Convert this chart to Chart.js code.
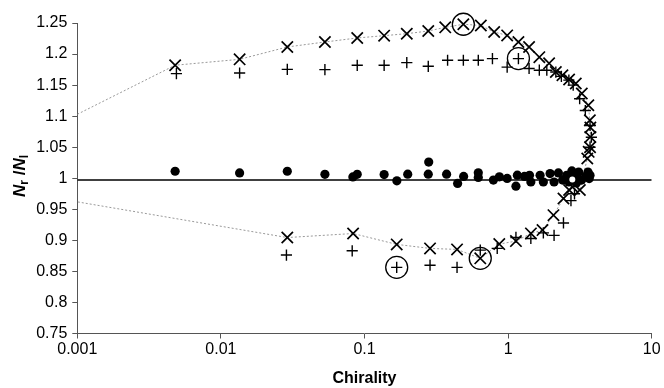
<!DOCTYPE html>
<html>
<head>
<meta charset="utf-8">
<script src="https://cdn.jsdelivr.net/npm/chart.js@4/dist/chart.umd.min.js"></script>
<style>
  html, body { margin: 0; padding: 0; background: #fff; }
  #wrap { width: 664px; height: 388px; }
</style>
</head>
<body>
<div id="wrap"><canvas id="chart" width="664" height="388"></canvas></div>
<script>
// --- data ---
const xTicks = [0.001, 0.01, 0.1, 1, 10];
const xTickLabels = ['0.001', '0.01', '0.1', '1', '10'];

// x markers (loop, upper branch then lower branch)
const crossX = [0.0048, 0.0135, 0.029, 0.053, 0.089, 0.137, 0.197, 0.278, 0.365, 0.488, 0.646, 0.80, 0.985, 1.18, 1.40, 1.65, 1.93, 2.15, 2.39, 2.66, 2.96, 3.26, 3.62, 3.71, 3.74, 3.74, 3.72, 3.64, 3.56, 3.16, 2.81, 2.66, 2.43, 2.07, 1.736, 1.442, 1.134, 0.868, 0.640, 0.441, 0.286, 0.1676, 0.0833, 0.029];
const crossY = [1.182, 1.1915, 1.2114, 1.2194, 1.2259, 1.2296, 1.2328, 1.2371, 1.243, 1.248, 1.246, 1.2355, 1.230, 1.2194, 1.2114, 1.195, 1.185, 1.1712, 1.1659, 1.159, 1.1525, 1.1364, 1.1175, 1.0935, 1.0817, 1.0666, 1.050, 1.0425, 1.0318, 0.981, 0.986, 0.981, 0.9675, 0.9406, 0.9165, 0.9112, 0.8988, 0.894, 0.871, 0.8854, 0.887, 0.8935, 0.911, 0.9045];

// + markers
const plusX = [0.0049, 0.0135, 0.029, 0.053, 0.089, 0.137, 0.197, 0.278, 0.379, 0.488, 0.62, 0.778, 0.985, 1.18, 1.40, 1.65, 1.86, 2.15, 2.35, 2.65, 2.84, 3.15, 3.45, 3.72, 3.8, 3.72, 2.9, 2.74, 2.43, 2.09, 1.76, 1.44, 1.134, 0.84, 0.640, 0.441, 0.286, 0.1676, 0.0821, 0.0286];
const plusY = [1.1685, 1.1695, 1.1754, 1.1749, 1.1819, 1.1819, 1.1862, 1.1803, 1.19, 1.19, 1.19, 1.1927, 1.179, 1.1927, 1.1767, 1.174, 1.174, 1.171, 1.164, 1.158, 1.15, 1.128, 1.109, 1.085, 1.066, 1.05, 0.975, 0.964, 0.928, 0.908, 0.912, 0.903, 0.9047, 0.887, 0.8843, 0.8565, 0.860, 0.8565, 0.8832, 0.8763];

// filled dots near 1
const dotX = [0.0048, 0.0135, 0.029, 0.053, 0.083, 0.089, 0.137, 0.168, 0.2, 0.278, 0.28, 0.373, 0.445, 0.49, 0.62, 0.62, 0.79, 0.87, 0.985, 1.134, 1.16, 1.3, 1.41, 1.44, 1.67, 1.76, 1.96, 2.09, 2.24, 2.4, 2.56, 2.65, 2.78, 2.93, 2.99, 3.1, 3.25, 3.47, 3.6, 3.67, 3.72];
const dotY = [1.0113, 1.0086, 1.0113, 1.0064, 1.0021, 1.0064, 1.0059, 0.9958, 1.0066, 1.0066, 1.026, 1.0066, 0.9917, 1.003, 1.0087, 1.0013, 0.997, 1.0023, 0.9997, 0.9873, 1.005, 1.003, 1.0048, 0.9941, 1.0048, 0.994, 1.0075, 0.994, 1.0086, 0.997, 1.0048, 0.994, 1.0118, 1.003, 0.9925, 1.010, 0.997, 1.003, 1.010, 0.9995, 1.005];

// dotted curve ends at the left axis
const curveStartY = 1.103;
const curveEndY = 0.962;

// horizontal reference line
const refLineX = [0.001, 10];
const refLineY = [0.997, 0.997];

// circled points
const ringX = [0.488, 1.18, 0.1676, 0.640];
const ringY = [1.248, 1.1927, 0.8565, 0.871];

// open marker inside the dot cluster
const openX = [2.8];
const openY = [0.998];

const toPts = (xs, ys) => xs.map((x, i) => ({ x: x, y: ys[i] }));

const curveX = [0.001, ...crossX, 0.001];
const curveY = [curveStartY, ...crossY, curveEndY];

const FONT = "'Liberation Sans', Arial, sans-serif";

// y axis title with subscripts
const yTitlePlugin = {
    id: 'yTitle',
    afterDraw(chart) {
        const ctx = chart.ctx;
        ctx.save();
        ctx.translate(20, 176);
        ctx.rotate(-Math.PI / 2);
        ctx.fillStyle = '#000';
        ctx.textBaseline = 'middle';
        const parts = [
            { t: 'N', f: 'italic bold 17px ' + FONT, dy: 0 },
            { t: 'r', f: 'bold 12px ' + FONT, dy: 5 },
            { t: ' /', f: 'bold 17px ' + FONT, dy: 0 },
            { t: 'N', f: 'italic bold 17px ' + FONT, dy: 0 },
            { t: 'l', f: 'bold 12px ' + FONT, dy: 5 }
        ];
        let w = 0;
        parts.forEach(p => { ctx.font = p.f; w += ctx.measureText(p.t).width; });
        let x = -w / 2;
        ctx.textAlign = 'left';
        parts.forEach(p => {
            ctx.font = p.f;
            ctx.fillText(p.t, x, p.dy);
            x += ctx.measureText(p.t).width;
        });
        ctx.restore();
    }
};

new Chart(document.getElementById('chart'), {
    type: 'scatter',
    data: {
        datasets: [
            {
                type: 'line',
                data: toPts(refLineX, refLineY),
                borderColor: '#000',
                borderWidth: 1.5,
                pointRadius: 0,
                order: 5
            },
            {
                type: 'line',
                data: toPts(curveX, curveY),
                borderColor: '#999',
                borderWidth: 1,
                borderDash: [2, 2],
                pointRadius: 0,
                tension: 0,
                order: 4
            },
            {
                data: toPts(dotX, dotY),
                pointStyle: 'circle',
                pointRadius: 4.6,
                backgroundColor: '#000',
                borderColor: '#000',
                borderWidth: 0,
                order: 3
            },
            {
                data: toPts(crossX, crossY),
                pointStyle: 'crossRot',
                pointRadius: 8,
                borderColor: '#000',
                borderWidth: 1.7,
                clip: false,
                order: 2
            },
            {
                data: toPts(plusX, plusY),
                pointStyle: 'cross',
                pointRadius: 5.6,
                borderColor: '#000',
                borderWidth: 1.4,
                order: 2
            },
            {
                data: toPts(ringX, ringY),
                pointStyle: 'circle',
                pointRadius: 11,
                backgroundColor: 'rgba(0,0,0,0)',
                borderColor: '#000',
                borderWidth: 1.3,
                clip: false,
                order: 1
            },
            {
                data: toPts(openX, openY),
                pointStyle: 'circle',
                pointRadius: 4,
                backgroundColor: '#fff',
                borderColor: '#000',
                borderWidth: 2,
                order: 0
            }
        ]
    },
    options: {
        responsive: false,
        animation: false,
        layout: { padding: { top: 23, right: 11, left: 0, bottom: 0 } },
        plugins: {
            legend: { display: false },
            tooltip: { enabled: false }
        },
        scales: {
            x: {
                type: 'logarithmic',
                min: 0.001,
                max: 10,
                afterBuildTicks: axis => { axis.ticks = xTicks.map(v => ({ value: v })); },
                afterFit: axis => { axis.height = 54.5; },
                ticks: {
                    color: '#000',
                    font: { family: FONT, size: 16 },
                    padding: 1,
                    maxRotation: 0,
                    autoSkip: false,
                    callback: (v) => {
                        const i = xTicks.indexOf(v);
                        return i >= 0 ? xTickLabels[i] : '';
                    }
                },
                grid: { drawOnChartArea: false, color: '#555', tickLength: 5 },
                border: { color: '#555', width: 1 },
                title: {
                    display: true,
                    text: 'Chirality',
                    color: '#000',
                    font: { family: FONT, size: 16, weight: 'bold' },
                    padding: { top: 6, bottom: 0 }
                }
            },
            y: {
                min: 0.75,
                max: 1.25,
                afterFit: axis => { axis.width = 77.3; },
                ticks: {
                    stepSize: 0.05,
                    color: '#000',
                    font: { family: FONT, size: 16 },
                    padding: 5,
                    callback: v => String(parseFloat(v.toFixed(2)))
                },
                grid: { drawOnChartArea: false, color: '#555', tickLength: 5 },
                border: { color: '#555', width: 1 }
            }
        }
    },
    plugins: [yTitlePlugin]
});
</script>
</body>
</html>
